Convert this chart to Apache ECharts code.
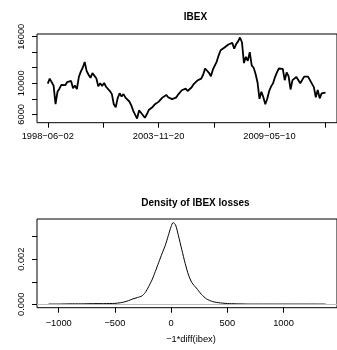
<!DOCTYPE html>
<html>
<head>
<meta charset="utf-8">
<script src="https://cdn.jsdelivr.net/npm/echarts@6/dist/echarts.min.js"></script>
<style>
html,body{margin:0;padding:0;background:#fff;}
#c{width:337px;height:350px;}
</style>
</head>
<body>
<div id="c"></div>
<script>
// ---- data ----
var startDate = '1998-06-02';
var stepDays = 35;
var ibex = [
  9950, 10600, 10850, 9700, 7300, 8900, 9300, 9800, 9950, 9750,
  10150, 9900, 10300, 9350, 9700, 9250, 10800, 11500, 12000, 12750,
  11600, 11100, 10700, 11300, 11150, 10650, 9600, 10000, 9650, 10050,
  9550, 9450, 9000, 8600, 7300, 6900, 8100, 8700, 8300, 8600,
  8150, 8350, 7650, 7150, 6450, 6200, 5450, 6500, 6200, 6050,
  5550, 6000, 6550, 6800, 6950, 7250, 7200, 7600, 7750, 8150,
  8300, 8500, 8200, 8150, 7950, 7900, 8150, 8500, 8650, 9100,
  9250, 9300, 9000, 9200, 9450, 9850, 9950, 10350, 10400, 10600,
  11100, 11900, 11800, 11350, 10900, 11750, 11950, 12800, 13600, 14250,
  14200, 14600, 14700, 15000, 15100, 15200, 14450, 15050, 15400, 15900,
  15250, 12600, 13400, 12900, 14000, 12300, 12000, 11200, 10100, 8000,
  8900, 8200, 7300, 8000, 9000, 9600, 10000, 10800, 11400, 11900,
  12000, 11850, 10400, 11400, 10900, 9200, 10400, 10450, 10800, 10900,
  10000, 9750, 10850, 10600, 10850, 10400, 10450, 9500, 8200, 9150,
  8050, 8700, 8500, 8800
];
var ibexXTicks = [0, 998, 1997, 2996, 3995, 4994];
var ibexXLabels = [0, 1997, 3995];
var ibexYTicks = [6000, 8000, 10000, 12000, 14000, 16000];
var ibexYLabels = [6000, 10000, 16000];

var lossX = [-1090, -1000, -900, -800, -700, -600, -500, -450, -420, -380,
  -340, -300, -260, -230, -200, -170, -140, -110, -80, -50,
  -25, 0, 18, 40, 65, 95, 125, 155, 185, 225,
  270, 315, 370, 440, 520, 600, 700, 800, 900, 1000,
  1100, 1200, 1300, 1375];
var lossDensity = [0.00001, 0.00001, 0.00002, 0.00002, 0.00003, 0.00003, 0.00004, 0.00007, 0.0001, 0.00016,
  0.00024, 0.0003, 0.00037, 0.00052, 0.00078, 0.00108, 0.00146, 0.00186, 0.00226, 0.00264,
  0.00305, 0.00345, 0.00363, 0.00352, 0.00305, 0.00243, 0.00182, 0.0013, 0.00096, 0.00072,
  0.00044, 0.00024, 0.00012, 0.00006, 0.00003, 0.00002, 0.00001, 0.00001, 0.00001, 0.00001,
  0.00001, 0.00001, 0.00001, 0.00001];
var densXTicks = [-1000, -500, 0, 500, 1000];
var densYTicks = [0, 0.001, 0.002, 0.003];
var densYLabels = [0, 0.002];

// ---- helpers ----
var MINUS = '\u2212';
function dayToDate(d) {
  var t = Date.UTC(+startDate.slice(0,4), +startDate.slice(5,7)-1, +startDate.slice(8,10)) + d*86400000;
  var dt = new Date(t);
  function p(n){return (n<10?'0':'')+n;}
  return dt.getUTCFullYear() + MINUS + p(dt.getUTCMonth()+1) + MINUS + p(dt.getUTCDate());
}
var ibexData = ibex.map(function(v, i){ return [i*stepDays, v]; });
var densData = lossX.map(function(x, i){ return [x, lossDensity[i]]; });

var FONT = 'Liberation Sans, Arial, Helvetica, sans-serif';
var txt = {color:'#000', fontFamily: FONT, fontSize: 9.3};
var tick = {show:true, length:5, inside:false, lineStyle:{color:'#000', width:1}};
var noLine = {show:false, onZero:false};

var chart = echarts.init(document.getElementById('c'), null, {renderer:'canvas'});
chart.setOption({
  animation: false,
  backgroundColor: '#fff',
  title: [
    {text:'IBEX', left:190.5, top:7, textAlign:'center', textStyle:{fontFamily:FONT, fontSize:10, fontWeight:'bold', color:'#000'}},
    {text:'Density of IBEX losses', left:190.5, top:193, textAlign:'center', textStyle:{fontFamily:FONT, fontSize:10, fontWeight:'bold', color:'#000'}},
    {text: MINUS + '1*diff(ibex)', left:186, top:330, textAlign:'center', textStyle:{fontFamily:FONT, fontSize:9.3, fontWeight:'normal', color:'#000'}}
  ],
  grid: [
    {left:37, right:-6.5, top:34, bottom:227.3, show:true, borderColor:'#000', borderWidth:1, backgroundColor:'transparent'},
    {left:37, right:-6.5, top:219, bottom:42.3, show:true, borderColor:'#000', borderWidth:1, backgroundColor:'transparent'}
  ],
  xAxis: [
    {type:'value', gridIndex:0, min:-194, max:5212,
      axisLine:noLine, splitLine:{show:false},
      axisTick: Object.assign({customValues: ibexXTicks}, tick),
      axisLabel: Object.assign({customValues: ibexXLabels, margin:9, formatter:function(v){return dayToDate(v);}}, txt)},
    {type:'value', gridIndex:1, min:-1193, max:1476,
      axisLine:noLine, splitLine:{show:false},
      axisTick: Object.assign({customValues: densXTicks}, tick),
      axisLabel: Object.assign({customValues: densXTicks, margin:11, formatter:function(v){return String(v).replace('-', MINUS);}}, txt)}
  ],
  yAxis: [
    {type:'value', gridIndex:0, min:4918, max:16348,
      axisLine:noLine, splitLine:{show:false},
      axisTick: Object.assign({customValues: ibexYTicks}, tick),
      axisLabel: Object.assign({customValues: ibexYLabels, rotate:90, margin:11, formatter:function(v){return String(v);}}, txt)},
    {type:'value', gridIndex:1, min:-0.000151, max:0.003786,
      axisLine:noLine, splitLine:{show:false},
      axisTick: Object.assign({customValues: densYTicks}, tick),
      axisLabel: Object.assign({customValues: densYLabels, rotate:90, margin:11, formatter:function(v){return v.toFixed(3);}}, txt)}
  ],
  series: [
    {type:'line', xAxisIndex:0, yAxisIndex:0, data: ibexData, symbol:'none', lineStyle:{color:'#000', width:1.8}, silent:true},
    {type:'line', xAxisIndex:1, yAxisIndex:1, data: densData, symbol:'none', smooth:0.25, lineStyle:{color:'#000', width:1}, silent:true,
      markLine:{silent:true, symbol:'none', label:{show:false}, lineStyle:{color:'#bebebe', width:1, type:'solid'}, data:[{yAxis:0}]}, z:3}
  ]
});
</script>
</body>
</html>
